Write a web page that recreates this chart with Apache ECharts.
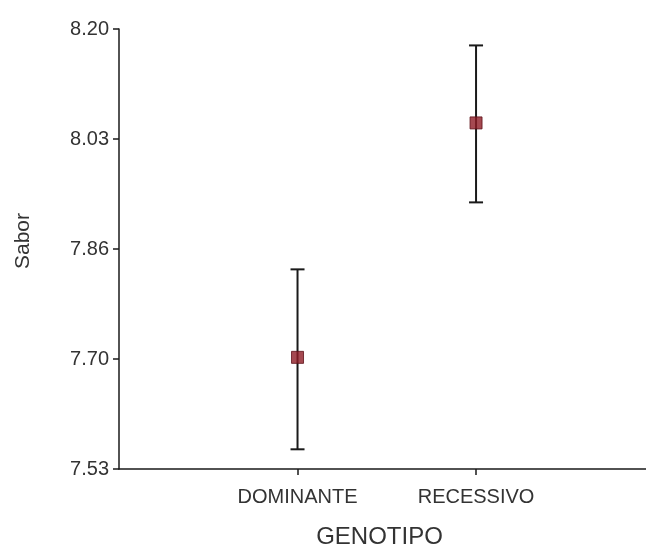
<!DOCTYPE html>
<html>
<head>
<meta charset="utf-8">
<script src="https://cdn.jsdelivr.net/npm/echarts@6/dist/echarts.min.js"></script>
<style>
  html, body { margin: 0; padding: 0; background: #ffffff; }
  #chart { width: 646px; height: 546px; }
</style>
</head>
<body>
<div id="chart"></div>
<script>
// Group names along the x axis (placed at positions 1, 2 on the x scale)
const categories = ['DOMINANTE', 'RECESSIVO'];
// Group means and the ends of their error bars
const means = [7.700, 8.057];
const lowerBounds = [7.560, 7.936];
const upperBounds = [7.834, 8.175];
// Y axis ticks and their printed labels
const yTickValues = [7.53, 7.6975, 7.865, 8.0325, 8.20];
const yTickLabels = ['7.53', '7.70', '7.86', '8.03', '8.20'];

const xPos = categories.map((c, i) => i + 1);
const meanData = categories.map((c, i) => [xPos[i], means[i]]);
const barData = categories.map((c, i) => [xPos[i], lowerBounds[i], upperBounds[i]]);

const textColor = '#333333';
const font = 'Liberation Sans, Arial, sans-serif';

const chart = echarts.init(document.getElementById('chart'), null, { renderer: 'canvas' });

chart.setOption({
  animation: false,
  backgroundColor: '#ffffff',
  grid: { left: 119, top: 29, width: 527, height: 440, containLabel: false, outerBoundsMode: 'none' },
  xAxis: {
    type: 'value',
    min: 0,
    max: 2.952,
    name: 'GENOTIPO',
    nameLocation: 'middle',
    nameGap: 56,
    nameTextStyle: { color: textColor, fontSize: 24, fontFamily: font, padding: [0, 6, 0, 0] },
    axisLine: { onZero: false, lineStyle: { color: '#1a1a1a', width: 1.5 } },
    axisTick: { show: true, inside: false, length: 6, customValues: xPos, lineStyle: { color: '#1a1a1a', width: 1.5 } },
    axisLabel: {
      customValues: xPos,
      margin: 18,
      color: textColor,
      fontSize: 20,
      fontFamily: font,
      formatter: v => categories[Math.round(v) - 1] || ''
    },
    splitLine: { show: false }
  },
  yAxis: {
    type: 'value',
    min: 7.53,
    max: 8.20,
    name: 'Sabor',
    nameLocation: 'middle',
    nameGap: 85,
    nameRotate: 90,
    nameTextStyle: { color: textColor, fontSize: 21, fontFamily: font, padding: [0, 0, 0, 16] },
    axisLine: { show: true, lineStyle: { color: '#1a1a1a', width: 1.5 } },
    axisTick: { show: true, inside: false, length: 6, customValues: yTickValues, lineStyle: { color: '#1a1a1a', width: 1.5 } },
    axisLabel: {
      customValues: yTickValues,
      margin: 10,
      color: textColor,
      fontSize: 20,
      fontFamily: font,
      formatter: v => {
        let best = 0;
        yTickValues.forEach((t, i) => { if (Math.abs(t - v) < Math.abs(yTickValues[best] - v)) best = i; });
        return yTickLabels[best];
      }
    },
    splitLine: { show: false }
  },
  series: [
    {
      type: 'custom',
      name: 'error',
      z: 2,
      data: barData,
      renderItem: (params, api) => {
        const x = api.value(0);
        const lo = api.coord([x, api.value(1)]);
        const hi = api.coord([x, api.value(2)]);
        const half = 7;
        const style = { stroke: '#1a1a1a', lineWidth: 2 };
        return {
          type: 'group',
          children: [
            { type: 'line', shape: { x1: lo[0], y1: lo[1], x2: hi[0], y2: hi[1] }, style },
            { type: 'line', shape: { x1: hi[0] - half, y1: hi[1], x2: hi[0] + half, y2: hi[1] }, style },
            { type: 'line', shape: { x1: lo[0] - half, y1: lo[1], x2: lo[0] + half, y2: lo[1] }, style }
          ]
        };
      }
    },
    {
      type: 'scatter',
      name: 'mean',
      z: 3,
      symbol: 'rect',
      symbolSize: 12,
      itemStyle: { color: '#8f1b26', borderColor: '#5e1018', borderWidth: 1 },
      data: meanData
    }
  ]
});
</script>
</body>
</html>
